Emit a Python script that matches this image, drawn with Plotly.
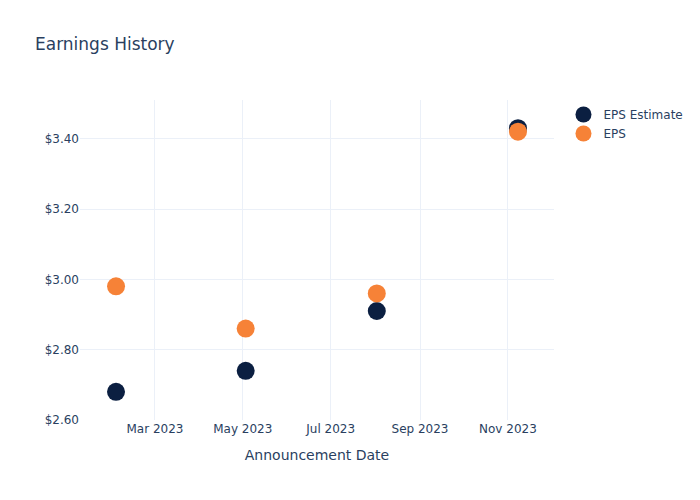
import plotly.graph_objects as go

dates = ["2023-02-02", "2023-05-03", "2023-08-02", "2023-11-08"]
eps_estimate = [2.68, 2.74, 2.91, 3.43]
eps_actual = [2.98, 2.86, 2.96, 3.42]

fig = go.Figure()
fig.add_trace(go.Scatter(x=dates, y=eps_estimate, mode="markers", name="EPS Estimate",
                         marker=dict(color="#0b1f41", size=18)))
fig.add_trace(go.Scatter(x=dates, y=eps_actual, mode="markers", name="EPS",
                         marker=dict(color="#f68237", size=18)))
fig.update_layout(
    template="plotly_white",
    width=700, height=500,
    font=dict(family="DejaVu Sans", color="#2a3f5f"),
    title=dict(text="Earnings History"),
    xaxis=dict(title=dict(text="Announcement Date"), range=["2023-01-08", "2023-12-03"],
               dtick="M2", tickformat="%b %Y"),
    yaxis=dict(range=[2.6, 3.51], dtick=0.2, tickprefix="$", tickformat=".2f"),
)
fig.write_html("out.html")
